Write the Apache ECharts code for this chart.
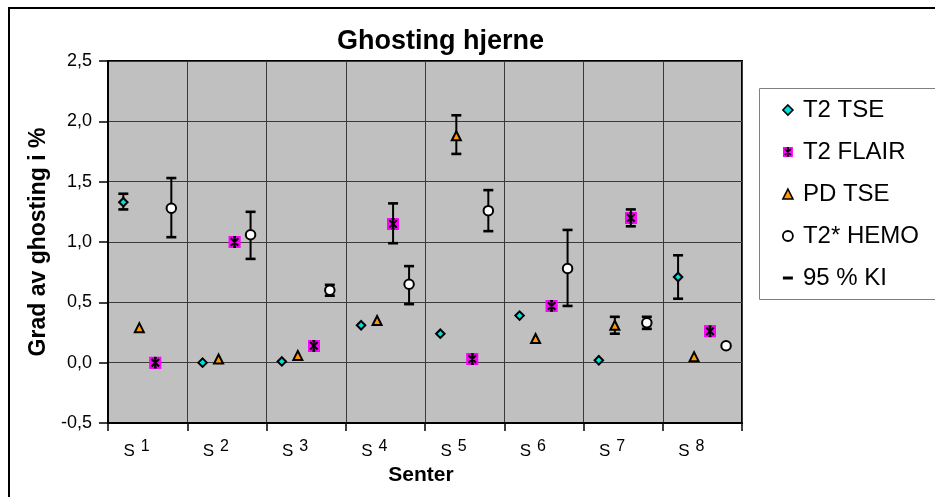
<!DOCTYPE html>
<html><head><meta charset="utf-8">
<script src="https://cdn.jsdelivr.net/npm/echarts@6/dist/echarts.min.js"></script>
<style>html,body{margin:0;padding:0;background:#fff}#c{width:935px;height:497px}</style>
</head><body><div id="c"></div>
<script>
// ---- data ----
const categories = ['S1', 'S2', 'S3', 'S4', 'S5', 'S6', 'S7', 'S8'];
const yTickLabels = ['-0,5', '0,0', '0,5', '1,0', '1,5', '2,0', '2,5'];
const t2tse   = [1.33, 0.00, 0.01, 0.31, 0.24, 0.39, 0.02, 0.71];
const t2flair = [0.00, 1.00, 0.14, 1.15, 0.03, 0.47, 1.20, 0.26];
const pdtse   = [0.29, 0.03, 0.06, 0.35, 1.88, 0.20, 0.31, 0.05];
const t2hemo  = [1.28, 1.06, 0.60, 0.65, 1.26, 0.78, 0.33, 0.14];
// 95 % KI [low, high] per centre (null = none shown)
const ciTse   = [[1.27, 1.40], null, null, null, null, null, null, [0.53, 0.89]];
const ciFlair = [null, null, null, [0.99, 1.32], null, null, [1.13, 1.27], null];
const ciPd    = [null, null, null, null, [1.73, 2.05], null, [0.24, 0.38], null];
const ciHemo  = [[1.04, 1.53], [0.86, 1.25], [0.555, 0.645], [0.485, 0.80], [1.09, 1.43], [0.47, 1.10], [0.28, 0.38], null];

// ---- styling ----
const FONT = '"Liberation Sans", Arial, sans-serif';
const CYAN = '#00E0E0', MAG = '#FF00FF', ORANGE = '#FF9900';
const OFF = { tse: -24.3, pd: -8.3, flair: 7.7, hemo: 23.7 };

const flairSvg = "<svg xmlns='http://www.w3.org/2000/svg' width='13' height='13' viewBox='0 0 13 13'>" +
  "<rect width='13' height='13' fill='#FF00FF'/>" +
  "<path d='M2.6 2.6L10.4 10.4M10.4 2.6L2.6 10.4M6.5 1.2V11.8M5 1.4H8M5 11.6H8' stroke='#000' stroke-width='2.1' fill='none'/></svg>";
const flairIcon = 'image://data:image/svg+xml;charset=utf-8,' + encodeURIComponent(flairSvg);

function scatter(name, vals, symbol, size, color, offset, bw) {
  return {
    type: 'scatter', name, data: vals.map((v, i) => [i, v]),
    symbol, symbolSize: size, symbolOffset: [offset, 0],
    itemStyle: { color, borderColor: '#000', borderWidth: bw, opacity: 1 },
    z: 3, emphasis: { disabled: true }, silent: true
  };
}
function errSeries(ci, offset) {
  const data = [];
  ci.forEach((r, i) => { if (r) data.push([i, r[0], r[1]]); });
  return {
    type: 'custom', name: '95 % KI', data, z: 2, silent: true,
    encode: { x: 0, y: [1, 2] },
    renderItem(params, api) {
      const c = api.value(0);
      const lo = api.coord([c, api.value(1)]);
      const hi = api.coord([c, api.value(2)]);
      const x = lo[0] + offset;
      const cap = { stroke: '#000', lineWidth: 2.6 };
      return {
        type: 'group', children: [
          { type: 'line', shape: { x1: x, y1: lo[1], x2: x, y2: hi[1] }, style: { stroke: '#000', lineWidth: 2 } },
          { type: 'line', shape: { x1: x - 5, y1: lo[1], x2: x + 5, y2: lo[1] }, style: cap },
          { type: 'line', shape: { x1: x - 5, y1: hi[1], x2: x + 5, y2: hi[1] }, style: cap }
        ]
      };
    }
  };
}

const chart = echarts.init(document.getElementById('c'), null, { renderer: 'canvas' });
chart.setOption({
  animation: false,
  backgroundColor: '#fff',
  title: {
    text: 'Ghosting hjerne', left: 337, top: 28, padding: 0,
    textStyle: { fontFamily: FONT, fontSize: 27, fontWeight: 'bold', color: '#000' }
  },
  graphic: [
    { type: 'rect', shape: { x: 9, y: 8, width: 1000, height: 1000 }, style: { fill: 'none', stroke: '#000', lineWidth: 2 }, z: -1, silent: true },
    { type: 'rect', shape: { x: 759.5, y: 88.5, width: 300, height: 211 }, style: { fill: '#fff', stroke: '#808080', lineWidth: 1 }, z: 0, silent: true }
  ],
  legend: {
    orient: 'vertical', left: 782, top: 98, padding: 0,
    itemWidth: 10, itemHeight: 10, itemGap: 18, selectedMode: false,
    textStyle: { fontFamily: FONT, fontSize: 24, color: '#000', lineHeight: 24, padding: [0, 0, 0, 5] },
    data: [
      { name: 'T2 TSE', icon: 'path://M5,0L10,5L5,10L0,5Z', itemStyle: { color: CYAN, borderColor: '#000', borderWidth: 1.6 } },
      { name: 'T2 FLAIR', icon: flairIcon },
      { name: 'PD TSE', icon: 'path://M5,0L10,10L0,10Z', itemStyle: { color: ORANGE, borderColor: '#000', borderWidth: 1.6 } },
      { name: 'T2* HEMO', icon: 'circle', itemStyle: { color: '#fff', borderColor: '#000', borderWidth: 1.8 } },
      { name: '95 % KI', icon: 'path://M0,0L10,0L10,3L0,3Z', itemStyle: { color: '#000', borderWidth: 0 } }
    ]
  },
  grid: {
    left: 108, right: 193, top: 61, bottom: 74, containLabel: false, outerBoundsMode: 'none',
    show: true, backgroundColor: '#C0C0C0', borderColor: '#000', borderWidth: 2
  },
  xAxis: {
    type: 'category', data: categories, boundaryGap: true,
    name: 'Senter', nameLocation: 'middle', nameGap: 32,
    nameTextStyle: { fontFamily: FONT, fontSize: 21, fontWeight: 'bold', color: '#000', padding: [0, 8, 0, 0] },
    axisLine: { show: true, onZero: false, lineStyle: { color: '#000', width: 2 } },
    axisTick: { show: true, length: 8, interval: 0, lineStyle: { color: '#000', width: 1.5 } },
    splitLine: { show: true, interval: 0, lineStyle: { color: '#3a3a3a', width: 1 } },
    axisLabel: {
      interval: 0, margin: 16, padding: [0, 22, 0, 0],
      formatter: v => '{s|' + v.charAt(0) + '}{n|' + v.slice(1) + '}',
      rich: {
        s: { fontFamily: FONT, fontSize: 17, color: '#000' },
        n: { fontFamily: FONT, fontSize: 16, color: '#000', padding: [0, 0, 9, 6] }
      }
    }
  },
  yAxis: {
    type: 'value', min: -0.5, max: 2.5, interval: 0.5,
    name: 'Grad av ghosting i %', nameLocation: 'middle', nameGap: 57, nameRotate: 90,
    nameTextStyle: { fontFamily: FONT, fontSize: 23, fontWeight: 'bold', color: '#000' },
    axisLine: { show: true, lineStyle: { color: '#000', width: 2 } },
    axisTick: { show: true, length: 9, lineStyle: { color: '#000', width: 1.5 } },
    splitLine: { show: true, lineStyle: { color: '#3a3a3a', width: 1 } },
    axisLabel: {
      margin: 16, fontFamily: FONT, fontSize: 18, color: '#000',
      formatter: v => yTickLabels[Math.round((v + 0.5) / 0.5)]
    }
  },
  series: [
    errSeries(ciTse, OFF.tse),
    errSeries(ciFlair, OFF.flair),
    errSeries(ciPd, OFF.pd),
    errSeries(ciHemo, OFF.hemo),
    scatter('T2 TSE', t2tse, 'diamond', 8.5, CYAN, OFF.tse, 2),
    scatter('T2 FLAIR', t2flair, flairIcon, 12.5, MAG, OFF.flair, 0),
    scatter('PD TSE', pdtse, 'triangle', 9, ORANGE, OFF.pd, 2),
    scatter('T2* HEMO', t2hemo, 'circle', 9.5, '#fff', OFF.hemo, 2)
  ]
});
</script></body></html>
